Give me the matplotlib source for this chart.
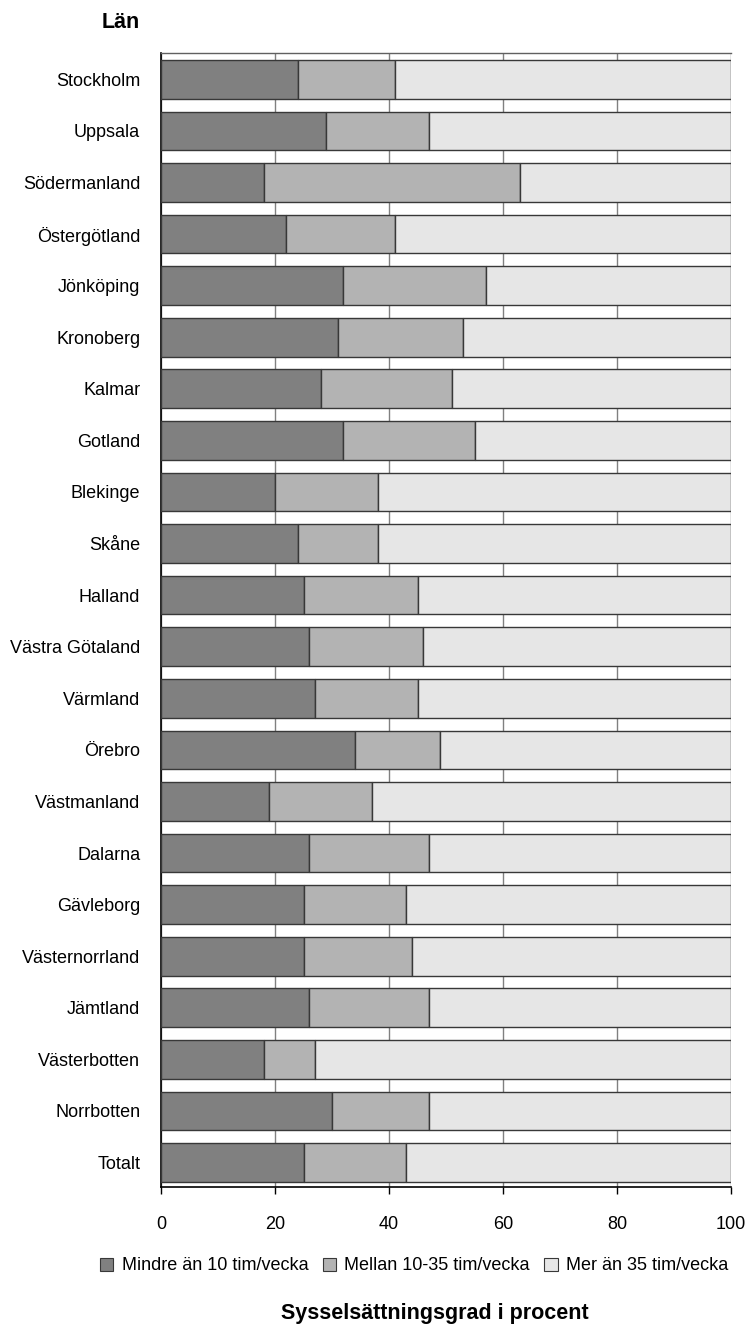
import matplotlib
matplotlib.use("Agg")
import matplotlib.pyplot as plt
import numpy as np
from matplotlib.patches import Patch

# Län (counties), top to bottom
lan = [
    "Stockholm", "Uppsala", "Södermanland", "Östergötland", "Jönköping",
    "Kronoberg", "Kalmar", "Gotland", "Blekinge", "Skåne", "Halland",
    "Västra Götaland", "Värmland", "Örebro", "Västmanland", "Dalarna",
    "Gävleborg", "Västernorrland", "Jämtland", "Västerbotten", "Norrbotten",
    "Totalt",
]

# share (%) per working-time group
mindre_10 = [24, 29, 18, 22, 32, 31, 28, 32, 20, 24, 25, 26, 27, 34, 19, 26, 25, 25, 26, 18, 30, 25]
mellan_10_35 = [17, 18, 45, 19, 25, 22, 23, 23, 18, 14, 20, 20, 18, 15, 18, 21, 18, 19, 21, 9, 17, 18]
mer_35 = [100 - a - b for a, b in zip(mindre_10, mellan_10_35)]

series_labels = ["Mindre än 10 tim/vecka", "Mellan 10-35 tim/vecka", "Mer än 35 tim/vecka"]
series_colors = ["#808080", "#b3b3b3", "#e6e6e6"]
x_ticks = [0, 20, 40, 60, 80, 100]

plt.rcParams["font.family"] = ["Liberation Sans", "DejaVu Sans"]
fs = 13
fs_bold = 15.5

W, H = 747, 1336
fig = plt.figure(figsize=(W / 100, H / 100), dpi=100)
ax = fig.add_axes([161 / W, 1 - 1187 / H, (731 - 161) / W, (1187 - 53) / H])

y = np.arange(len(lan))
left = np.zeros(len(lan))
for values, color, label in zip([mindre_10, mellan_10_35, mer_35], series_colors, series_labels):
    ax.barh(y, values, left=left, height=0.75, color=color, edgecolor="#383838",
            linewidth=1.0, label=label, zorder=3)
    left = left + np.array(values)

ax.set_xlim(0, 100)
ax.set_ylim(len(lan) - 1 + 0.475, -0.51)
ax.set_yticks(y)
ax.set_yticklabels(lan, fontsize=fs)
ax.tick_params(axis="y", length=0, pad=15)
ax.set_xticks(x_ticks)
ax.set_xticklabels([str(t) for t in x_ticks], fontsize=fs)
ax.tick_params(axis="x", direction="out", length=5, width=1, pad=16, color="black")

ax.grid(axis="x", color="#808080", linewidth=1.0, zorder=0)
ax.set_axisbelow(True)
for side in ["left", "bottom"]:
    ax.spines[side].set_color("black")
    ax.spines[side].set_linewidth(1.2)
ax.spines["top"].set_color("#606060")
ax.spines["top"].set_linewidth(1.0)
ax.spines["right"].set_visible(False)

fig.text(140 / W, 1 - 23 / H, "Län", ha="right", va="center", fontsize=fs_bold, fontweight="bold")

handles = [Patch(facecolor=c, edgecolor="#383838", linewidth=0.8) for c in series_colors]
fig.legend(handles, series_labels, loc="center", bbox_to_anchor=(414 / W, 1 - 1266 / H),
           ncol=3, frameon=False, fontsize=fs, handlelength=0.75, handleheight=0.75,
           handletextpad=0.45, columnspacing=0.8, borderaxespad=0, borderpad=0)

fig.text(435 / W, 1 - 1313 / H, "Sysselsättningsgrad i procent", ha="center", va="center",
         fontsize=fs_bold, fontweight="bold")

fig.savefig("out.png", dpi=100)
